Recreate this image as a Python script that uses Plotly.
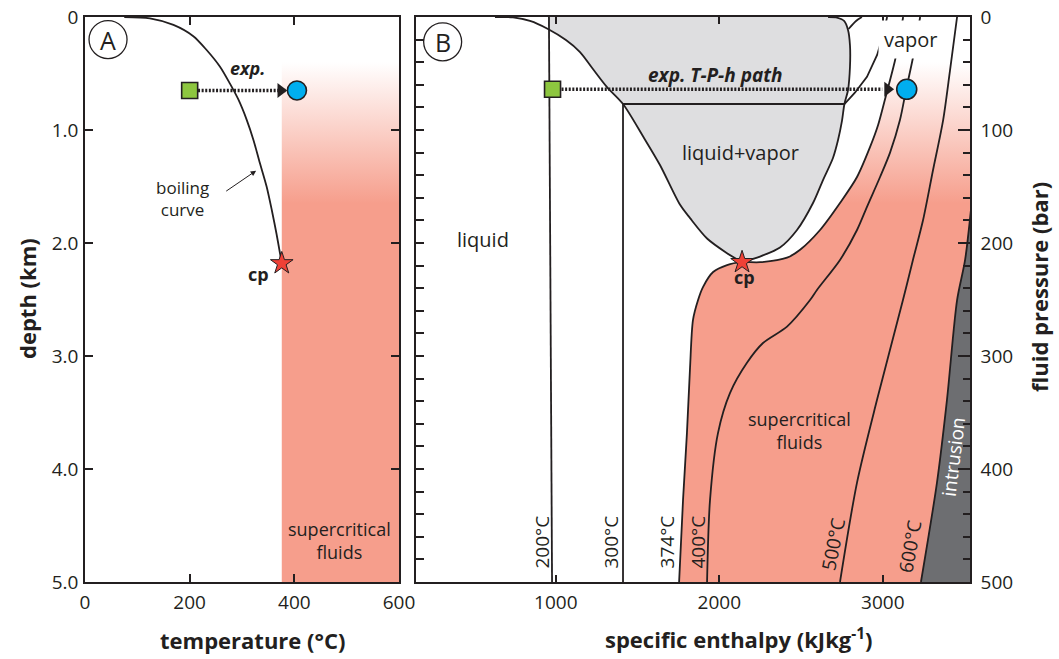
import plotly.graph_objects as go

INK = "#231F20"
SALMON = "rgb(246,158,140)"
GRAY = "rgb(222,222,224)"
DARK = "rgb(109,110,113)"
FONT = "Open Sans"

# ---------------- Panel A data (temperature °C vs depth km) ----------------
boil_T = [75, 124, 169, 207, 232, 258, 277, 293, 309, 322, 334, 347, 357, 366, 376]
boil_d = [0, 0.012, 0.07, 0.17, 0.29, 0.44, 0.59, 0.73, 0.91, 1.09, 1.29, 1.50, 1.71, 1.92, 2.18]
crit_T = 376
crit_d = 2.18
sc_region_T = [376, 600]
sc_region_d = [0, 5]
expA_T = [200, 405]
expA_d = 0.65

# ---------------- Panel B data (specific enthalpy kJ/kg vs pressure bar) ----------------
liq_h = [628, 738, 842, 952, 1062, 1148, 1227, 1313, 1411, 1535, 1637, 1759, 1821, 1925, 2047, 2139]
liq_P = [0, 0.4, 3.5, 10.6, 20.4, 31, 46, 62, 77, 106, 131, 166, 178, 196, 209, 217]
vap_h = [2139, 2249, 2371, 2475, 2573, 2634, 2695, 2726, 2750, 2765, 2787, 2799, 2799, 2787, 2763, 2714, 2665]
vap_P = [217, 212, 204, 188.5, 164.6, 144.3, 124.8, 108.9, 92, 77, 64.6, 44, 25, 11.5, 3.5, 0.4, 0]
gray_top_h = 958

iso200_h = [977, 958]
iso200_P = [500, 0]
iso200v_h = [2790, 2836, 2872]
iso200v_P = [10.6, 3.5, 0]
iso300_h = [1411, 1411, 2765, 2829, 2903, 2965, 3001, 3026]
iso300_P = [500, 77, 77, 67, 53, 33.6, 16, 0]
iso374_h = [1754, 1778, 1802, 1821, 1839, 1870, 1900, 1962, 2047, 2139, 2249, 2414, 2494, 2616, 2738, 2842, 2922, 2971, 3020, 3075, 3105, 3124]
iso374_P = [500, 427.5, 368, 310, 268, 250.4, 239, 225.7, 219.5, 217, 217, 213, 206, 188.5, 164.6, 141.6, 115, 95.6, 69, 38, 16, 0]
iso400_h = [1925, 1943, 1992, 2065, 2169, 2267, 2414, 2555, 2597, 2738, 2842, 2903, 2983, 3044, 3105, 3142, 3185, 3228]
iso400_P = [500, 427.5, 368, 332.8, 306, 288.5, 274, 250.5, 241.6, 215, 188.5, 168, 141.6, 120, 91, 64.6, 35.4, 0]
iso500_h = [2738, 2842, 2964, 3123, 3184, 3246, 3307, 3369, 3411, 3454]
iso500_P = [500, 412, 339, 250.5, 215, 179.7, 135.4, 91, 47, 0]
iso600_h = [3233, 3331, 3392, 3454, 3503, 3545]
iso600_P = [500, 412, 339, 250.5, 215, 162]
critB_h = 2139
critB_P = 217
expB_h = [980, 3146]
expB_P = 64

iso_labels = ["200°C", "300°C", "374°C", "400°C", "500°C", "600°C"]
iso_label_h = [916, 1338, 1680, 1870, 2695, 3166]
iso_label_P = [465, 465, 465, 465, 466, 468]
iso_label_angle = [-90, -90, -90, -90, -79, -80]

fig = go.Figure()

# ---------- Panel A ----------
fig.add_trace(go.Scatter(
    x=[sc_region_T[0], sc_region_T[1], sc_region_T[1], sc_region_T[0], sc_region_T[0]],
    y=[sc_region_d[0], sc_region_d[0], sc_region_d[1], sc_region_d[1], sc_region_d[0]],
    mode="none", fill="toself",
    fillgradient=dict(type="vertical", colorscale=[[0, "rgb(255,255,255)"], [1, SALMON]],
                      start=0.4, stop=1.65),
    xaxis="x", yaxis="y", hoverinfo="skip"))
fig.add_trace(go.Scatter(x=boil_T, y=boil_d, mode="lines",
                         line=dict(color=INK, width=1.8, shape="spline", smoothing=0.8),
                         xaxis="x", yaxis="y"))
fig.add_trace(go.Scatter(x=[expA_T[0] + 16, expA_T[1] - 22], y=[expA_d, expA_d], mode="lines",
                         line=dict(color=INK, width=3.5, dash="2px,1.6px"), xaxis="x", yaxis="y"))
fig.add_trace(go.Scatter(x=[expA_T[1] - 31], y=[expA_d], mode="markers",
                         marker=dict(symbol="triangle-right", size=13, color=INK, line=dict(width=0)),
                         xaxis="x", yaxis="y"))
fig.add_trace(go.Scatter(x=[expA_T[0]], y=[expA_d], mode="markers",
                         marker=dict(symbol="square", size=16, color="#8DC63F", line=dict(color=INK, width=1.6)),
                         xaxis="x", yaxis="y"))
fig.add_trace(go.Scatter(x=[expA_T[1]], y=[expA_d], mode="markers",
                         marker=dict(symbol="circle", size=19, color="#00AEEF", line=dict(color=INK, width=1.6)),
                         xaxis="x", yaxis="y"))
fig.add_trace(go.Scatter(x=[crit_T], y=[crit_d], mode="markers",
                         marker=dict(symbol="star", size=17, color="#EF4136", line=dict(color=INK, width=1)),
                         xaxis="x", yaxis="y"))

# ---------- Panel B ----------
pink_h = iso374_h + [3700, 3700]
pink_P = iso374_P + [0, 500]
fig.add_trace(go.Scatter(x=pink_h, y=pink_P, mode="none", fill="toself",
                         fillgradient=dict(type="vertical", colorscale=[[0, "rgb(255,255,255)"], [1, SALMON]],
                                           start=40, stop=165),
                         xaxis="x2", yaxis="y2", hoverinfo="skip"))
gl = [(h, p) for h, p in zip(liq_h, liq_P) if h >= 952]
gray_h = [gray_top_h] + vap_h[::-1] + [h for h, p in gl][::-1]
gray_P = [0] + vap_P[::-1] + [p for h, p in gl][::-1]
fig.add_trace(go.Scatter(x=gray_h, y=gray_P, mode="none", fill="toself", fillcolor=GRAY,
                         line=dict(shape="spline"), xaxis="x2", yaxis="y2", hoverinfo="skip"))
intr_h = iso600_h + [3700, 3700]
intr_P = iso600_P + [iso600_P[-1], 500]
fig.add_trace(go.Scatter(x=intr_h, y=intr_P, mode="none", fill="toself", fillcolor=DARK,
                         xaxis="x2", yaxis="y2", hoverinfo="skip"))

lw = 1.8
for hh, pp, shp in [(liq_h, liq_P, "spline"), (vap_h, vap_P, "spline"),
                    (iso200_h, iso200_P, "linear"), (iso200v_h, iso200v_P, "spline"),
                    (iso300_h, iso300_P, "linear"),
                    (iso374_h, iso374_P, "spline"), (iso400_h, iso400_P, "spline"),
                    (iso500_h, iso500_P, "spline"), (iso600_h, iso600_P, "spline")]:
    fig.add_trace(go.Scatter(x=hh, y=pp, mode="lines",
                             line=dict(color=INK, width=lw, shape=shp, smoothing=0.8),
                             xaxis="x2", yaxis="y2"))

fig.add_trace(go.Scatter(x=[expB_h[0] + 55, expB_h[1] - 150], y=[expB_P, expB_P], mode="lines",
                         line=dict(color=INK, width=3.5, dash="2px,1.6px"), xaxis="x2", yaxis="y2"))
fig.add_trace(go.Scatter(x=[expB_h[1] - 117], y=[expB_P], mode="markers",
                         marker=dict(symbol="triangle-right", size=13, color=INK, line=dict(width=0)),
                         xaxis="x2", yaxis="y2"))
fig.add_trace(go.Scatter(x=[expB_h[0]], y=[expB_P], mode="markers",
                         marker=dict(symbol="square", size=16, color="#8DC63F", line=dict(color=INK, width=1.6)),
                         xaxis="x2", yaxis="y2"))
fig.add_trace(go.Scatter(x=[expB_h[1]], y=[expB_P], mode="markers",
                         marker=dict(symbol="circle", size=20, color="#00AEEF", line=dict(color=INK, width=1.6)),
                         xaxis="x2", yaxis="y2"))
fig.add_trace(go.Scatter(x=[critB_h], y=[critB_P], mode="markers",
                         marker=dict(symbol="star", size=17, color="#EF4136", line=dict(color=INK, width=1)),
                         xaxis="x2", yaxis="y2"))
fig.add_trace(go.Scatter(x=[None], y=[None], xaxis="x2", yaxis="y3", mode="markers"))

W, H = 1059, 659
def px(x0, x1):
    return [x0 / W, x1 / W]
ydom = [(H - 582) / H, (H - 17) / H]

tickfont = dict(family=FONT, size=19, color=INK)
axcommon = dict(showgrid=False, zeroline=False, showline=True, linecolor=INK, linewidth=1.5,
                ticks="inside", tickcolor=INK, tickwidth=1.5, tickfont=tickfont, automargin=False)

fig.update_layout(
    width=W, height=H, autosize=False, margin=dict(l=0, r=0, t=0, b=0),
    paper_bgcolor="white", plot_bgcolor="white", showlegend=False,
    font=dict(family=FONT, color=INK),
    xaxis=dict(domain=px(85, 399), range=[0, 600], anchor="y", tickvals=[0, 200, 400, 600],
               ticklen=8, mirror="ticks", ticklabelstandoff=2, **axcommon),
    yaxis=dict(domain=ydom, range=[5, 0], anchor="x", tickvals=[0, 1, 2, 3, 4, 5],
               ticktext=["0", "1.0", "2.0", "3.0", "4.0", "5.0"], ticklen=8, mirror="ticks",
               ticklabelstandoff=1, **axcommon),
    xaxis2=dict(domain=px(416, 970), range=[145, 3533], anchor="y2", tickvals=[1000, 2000, 3000],
                ticklen=7, mirror="ticks", ticklabelstandoff=2, **axcommon),
    yaxis2=dict(domain=ydom, range=[500, 0], anchor="x2", tickmode="linear", tick0=0, dtick=20,
                ticklen=8, showticklabels=False, **axcommon),
    yaxis3=dict(domain=ydom, range=[500, 0], anchor="x2", overlaying="y2", side="right",
                tickmode="linear", tick0=0, dtick=100, ticklen=12, ticklabelstandoff=5,
                minor=dict(dtick=20, ticks="inside", ticklen=7, tickcolor=INK, tickwidth=1.5),
                **axcommon),
)

def ann(x, y, text, xr="x", yr="y", size=20, **kw):
    d = dict(x=x, y=y, xref=xr, yref=yr, text=text, showarrow=False,
             xanchor="center", yanchor="middle",
             font=dict(family=FONT, size=size, color=kw.pop("color", INK)))
    d.update(kw)
    fig.add_annotation(**d)

# Panel A texts
ann(44, 0.2, "A", size=25)
ann(311, 0.45, "<b><i>exp.</i></b>", size=18)
ann(187, 1.61, "boiling<br>curve", size=17)
ann(331, 2.27, "<b>cp</b>", size=18)
ann(487, 4.63, "supercritical<br>fluids", size=18)
fig.add_annotation(x=327, y=1.36, ax=267, ay=1.55, xref="x", yref="y", axref="x", ayref="y",
                   text="", showarrow=True, arrowhead=2, arrowsize=1.1, arrowwidth=1, arrowcolor=INK)

# Panel B texts
ann(308, 22, "B", "x2", "y2", size=25)
ann(1978, 51, "<b><i>exp. T-P-h path</i></b>", "x2", "y2", size=19)
ann(555, 197, "liquid", "x2", "y2", size=20)
ann(2128, 120, "liquid+vapor", "x2", "y2", size=20)
ann(3172, 20, "vapor", "x2", "y2", size=20, bgcolor="white", borderpad=5)
ann(2156, 230, "<b>cp</b>", "x2", "y2", size=18)
ann(2493, 366, "supercritical<br>fluids", "x2", "y2", size=18)
ann(3429, 389, "intrusion", "x2", "y2", size=19, textangle=-83, color="white")
for t, h, p, a in zip(iso_labels, iso_label_h, iso_label_P, iso_label_angle):
    ann(h, p, t, "x2", "y2", size=19, textangle=a)

# circles around panel letters
fig.add_shape(type="circle", xref="x", yref="y", xsizemode="pixel", ysizemode="pixel",
              xanchor=44, yanchor=0.2, x0=-19, x1=19, y0=-19, y1=19, line=dict(color=INK, width=1.3))
fig.add_shape(type="circle", xref="x2", yref="y2", xsizemode="pixel", ysizemode="pixel",
              xanchor=308, yanchor=22, x0=-19, x1=19, y0=-19, y1=19, line=dict(color=INK, width=1.3))

# axis titles
ann(252 / W, (H - 640) / H, "<b>temperature (°C)</b>", "paper", "paper", size=22)
ann(738 / W, (H - 638) / H, "<b>specific enthalpy (kJkg<sup>-1</sup>)</b>", "paper", "paper", size=22)
ann(27 / W, (H - 299) / H, "<b>depth (km)</b>", "paper", "paper", size=22, textangle=-90)
ann(1039 / W, (H - 287) / H, "<b>fluid pressure (bar)</b>", "paper", "paper", size=22, textangle=-90)

fig.write_html("out.html")
